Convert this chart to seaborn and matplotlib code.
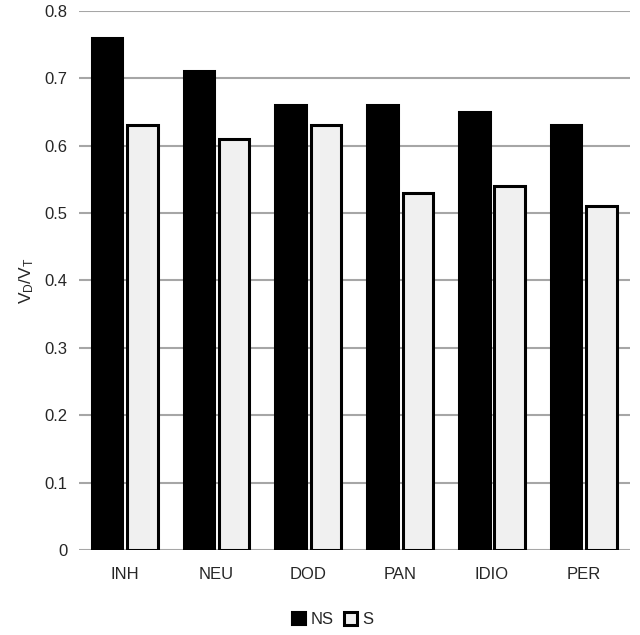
import pandas as pd
import numpy as np
import matplotlib.pyplot as plt
import seaborn as sns
from matplotlib.patches import Patch

# Values
groups = ["INH", "NEU", "DOD", "PAN", "IDIO", "PER"]
ns_values = [0.76, 0.71, 0.66, 0.66, 0.65, 0.63]
s_values = [0.63, 0.61, 0.63, 0.53, 0.54, 0.51]
series = ["NS", "S"]

df = pd.DataFrame({
    "Group": groups * 2,
    "Series": ["NS"] * len(groups) + ["S"] * len(groups),
    "Value": ns_values + s_values,
})

sns.set_style("white")
plt.rcParams['font.family'] = ['Liberation Sans', 'DejaVu Sans']
plt.rcParams['mathtext.default'] = 'regular'

fig = plt.figure(figsize=(6.4, 6.35), dpi=100)
ax = fig.add_axes([0.123, 0.134, 0.861, 0.849])

palette = {"NS": "#000000", "S": "#f0f0f0"}
sns.barplot(data=df, x="Group", y="Value", hue="Series", order=groups,
            hue_order=series, palette=palette, width=0.77, gap=0.14,
            edgecolor="black", linewidth=2.2, saturation=1, ax=ax,
            legend=False)

ticks = np.arange(0, 0.81, 0.1)
ax.set_ylim(0, 0.8)
ax.set_yticks(ticks)
ax.set_yticklabels(["0" if v == 0 else f"{v:.1f}" for v in ticks])
ax.yaxis.grid(True, color="#a6a6a6", linewidth=1.5)
ax.set_axisbelow(True)
for sp in ax.spines.values():
    sp.set_visible(False)
ax.tick_params(axis="both", length=0, labelsize=12, pad=8)
ax.tick_params(axis="x", pad=12)
ax.set_xlabel("")
ax.set_ylabel(r"V$_D$/V$_T$", fontsize=12.5, labelpad=6)

# Legend at the bottom
handles = [Patch(facecolor="#000000", edgecolor="black", linewidth=1.5),
           Patch(facecolor="#f0f0f0", edgecolor="black", linewidth=2.2)]
fig.legend(handles, series, loc="center", bbox_to_anchor=(0.52, 0.024),
           ncol=2, frameon=False, fontsize=12, handlelength=0.8,
           handleheight=0.8, handletextpad=0.3, columnspacing=0.6)

fig.savefig("out.png", dpi=100)
